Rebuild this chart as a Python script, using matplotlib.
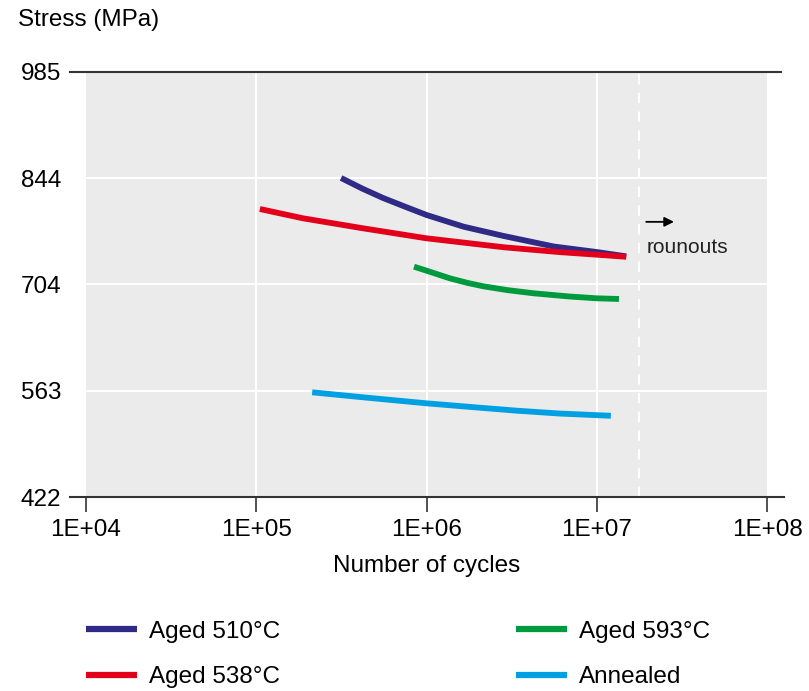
import matplotlib
matplotlib.use('Agg')
import matplotlib.pyplot as plt
import numpy as np

plt.rcParams['font.family'] = ['Liberation Sans', 'DejaVu Sans']

# values (cycles, stress in MPa)
aged510_n = [3.15e5, 4.2e5, 5.57e5, 7.5e5, 1.0e6, 1.65e6, 2.85e6, 5.6e6, 1.0e7, 1.49e7]
aged510_s = [844.6, 830.5, 818.0, 806.5, 795.6, 780.1, 767.7, 753.8, 746.5, 740.8]

aged538_n = [1.05e5, 1.88e5, 4.25e5, 1.0e6, 2.85e6, 6.0e6, 1.0e7, 1.49e7]
aged538_s = [803.5, 791.2, 777.9, 764.7, 752.8, 746.5, 743.0, 740.2]

aged593_n = [8.45e5, 1.0e6, 1.38e6, 1.75e6, 2.17e6, 3.0e6, 4.28e6, 7.0e6, 1.0e7, 1.35e7]
aged593_s = [727.1, 721.8, 711.5, 705.5, 701.0, 696.0, 691.8, 687.5, 685.2, 684.3]

annealed_n = [2.13e5, 4.45e5, 1.0e6, 2.0e6, 3.41e6, 6.0e6, 1.0e7, 1.21e7]
annealed_s = [560.7, 553.6, 546.1, 540.5, 536.3, 532.6, 530.4, 529.6]

series = [
    ("Aged 510°C", aged510_n, aged510_s, "#2e2a86"),
    ("Aged 538°C", aged538_n, aged538_s, "#e3001b"),
    ("Aged 593°C", aged593_n, aged593_s, "#009a3e"),
    ("Annealed", annealed_n, annealed_s, "#00a0e3"),
]

x_ticks = [1e4, 1e5, 1e6, 1e7, 1e8]
x_labels = ["1E+04", "1E+05", "1E+06", "1E+07", "1E+08"]
y_ticks = [422, 563, 704, 844, 985]
runout_limit = 1.78e7

fs = 17.5

fig = plt.figure(figsize=(8.09, 6.91), dpi=100)
ax = fig.add_axes([86/809, 1-497/691, 681/809, 425/691])
ax.set_facecolor("#ebebeb")
ax.set_xscale("log")
ax.set_xlim(1e4, 1e8)
ax.set_ylim(422, 985)

for s in ax.spines.values():
    s.set_visible(False)

# grid
for xv in x_ticks[1:-1]:
    ax.axvline(xv, color="white", lw=1.5, zorder=1)
for yv in y_ticks[1:-1]:
    ax.axhline(yv, color="white", lw=1.5, zorder=1)
ax.axvline(runout_limit, color="white", lw=1.5, ls=(0, (5, 4)), zorder=1)

# top / bottom rules extending past the plot
ax.axhline(985, xmin=-0.024, xmax=1.02, color="#333333", lw=1.5, clip_on=False, zorder=3)
ax.axhline(422, xmin=-0.024, xmax=1.025, color="#333333", lw=1.5, clip_on=False, zorder=3)

for label, n, s, c in series:
    ax.plot(n, s, color=c, lw=4.2, solid_capstyle="butt", solid_joinstyle="round",
            label=label, zorder=4)

ax.set_xticks(x_ticks)
ax.set_xticklabels(x_labels)
ax.xaxis.set_minor_locator(matplotlib.ticker.NullLocator())
ax.set_yticks(y_ticks)
ax.set_yticklabels([str(v) for v in y_ticks])
ax.tick_params(axis="x", length=11, width=1.2, color="#333333", pad=5, labelsize=fs)
ax.tick_params(axis="y", length=0, pad=18, labelsize=fs)

ax.set_xlabel("Number of cycles", fontsize=fs, labelpad=10)
fig.text(18/809, 1-20/691, "Stress (MPa)", fontsize=fs, ha="left", va="center")

# runouts arrow
ax.annotate("", xy=(2.95e7, 786.5), xytext=(1.88e7, 786.5),
            arrowprops=dict(arrowstyle="-|>", color="black", lw=1.3, mutation_scale=14))
ax.text(1.95e7, 753, "rounouts", fontsize=15, ha="left", va="center", color="#222222")

leg = ax.legend(loc="center left", bbox_to_anchor=(86/809, 1-654.5/691),
                bbox_transform=fig.transFigure, ncol=2, frameon=False,
                fontsize=fs, handlelength=2.1, handletextpad=0.5,
                columnspacing=9.7, labelspacing=0.95, borderpad=0, borderaxespad=0)
for h in leg.get_lines():
    h.set_linewidth(4.5)

fig.savefig("out.png", dpi=100)
